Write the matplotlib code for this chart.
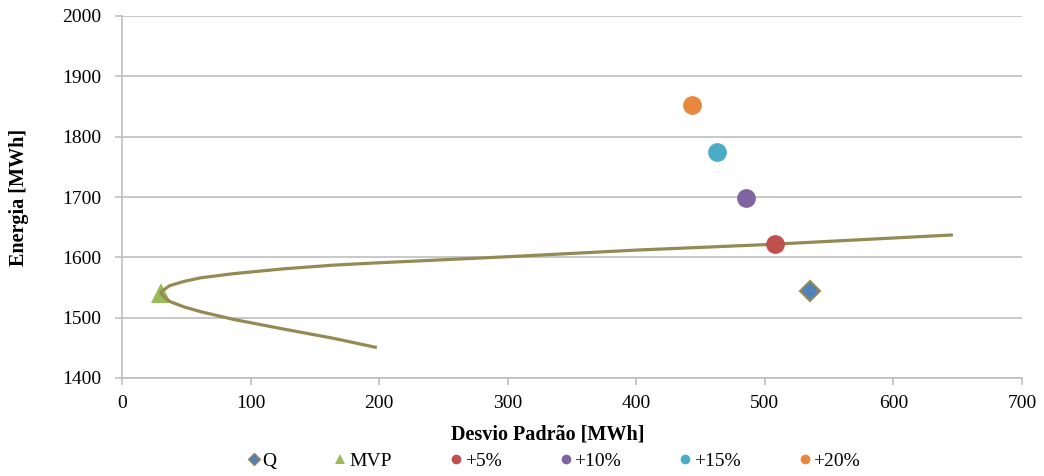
import matplotlib
matplotlib.use("Agg")
import matplotlib.pyplot as plt

plt.rcParams["font.family"] = ["Liberation Serif", "DejaVu Serif"]

# Efficient frontier: standard deviation [MWh] vs. energy [MWh]
frontier_std = [197, 164, 126, 87, 61, 48, 37, 33, 30, 33, 37, 48, 61, 87, 126,
                164, 200, 300, 400, 500, 645]
frontier_energy = [1451, 1466, 1481, 1497, 1510, 1518, 1527, 1534, 1541, 1547, 1553,
                   1560, 1566, 1573, 1581, 1587, 1591, 1601, 1612, 1621, 1637]

# Individual portfolios
point_labels = ["Q", "MVP", "+5%", "+10%", "+15%", "+20%"]
point_std = [535, 30, 508, 485, 463, 443]
point_energy = [1544, 1541, 1622, 1698, 1775, 1853]

x_ticks = [0, 100, 200, 300, 400, 500, 600, 700]
y_ticks = [1400, 1500, 1600, 1700, 1800, 1900, 2000]

W, H = 1044, 476
fig = plt.figure(figsize=(W / 100, H / 100), dpi=100)
ax = fig.add_axes([122 / W, 1 - 378 / H, 900 / W, 362 / H])

grid_color = "#BFBFBF"
line_color = "#948A54"

ax.plot(frontier_std, frontier_energy, color=line_color, lw=2.3,
        solid_joinstyle="round", zorder=3)

styles = [
    dict(marker="D", ms=10.5, mfc="#4F81BD", mec=line_color, mew=1.5),
    dict(marker="^", ms=14, mfc="#9BBB59", mec="#9BBB59", mew=0),
    dict(marker="o", ms=13.5, mfc="#C0504D", mec="#C0504D", mew=0),
    dict(marker="o", ms=13.5, mfc="#8064A2", mec="#8064A2", mew=0),
    dict(marker="o", ms=13.5, mfc="#4BACC6", mec="#4BACC6", mew=0),
    dict(marker="o", ms=13.5, mfc="#E8873D", mec="#E8873D", mew=0),
]
for lab, sx, sy, st in zip(point_labels, point_std, point_energy, styles):
    z = 2 if lab == "MVP" else 4
    ax.plot([sx], [sy], ls="none", zorder=z, **st)

ax.set_xlim(0, 700)
ax.set_ylim(1400, 2000)
ax.set_xticks(x_ticks)
ax.set_yticks(y_ticks)
ax.tick_params(axis="both", labelsize=14, color=grid_color, length=5,
               width=1.2, direction="out")
ax.tick_params(axis="y", pad=10)
ax.tick_params(axis="x", pad=7)
ax.yaxis.grid(True, color=grid_color, lw=1.2)
ax.set_axisbelow(True)
for s in ["top", "right"]:
    ax.spines[s].set_visible(False)
for s in ["left", "bottom"]:
    ax.spines[s].set_color(grid_color)
    ax.spines[s].set_linewidth(1.2)

ax.set_xlabel("Desvio Padrão [MWh]", fontsize=14.5, fontweight="bold")
ax.xaxis.set_label_coords((548 - 122) / 900, -(435 - 378) / 362)
ax.xaxis.label.set_va("center")
ax.set_ylabel("Energia [MWh]", fontsize=14.5, fontweight="bold")
ax.yaxis.set_label_coords(-(122 - 19) / 900, 0.5)
ax.yaxis.label.set_va("center")

legend_handles = []
for st, lab in zip(styles, point_labels):
    small = dict(st)
    small["ms"] = 7 if st["marker"] != "D" else 6.5
    small["mew"] = 1 if st["marker"] == "D" else 0
    h, = ax.plot([], [], ls="none", label=lab, **small)
    legend_handles.append(h)

fig.legend(handles=legend_handles, labels=point_labels, loc="center",
           bbox_to_anchor=(554 / W, 1 - 461 / H), ncol=6, frameon=False,
           fontsize=14, handlelength=0.6, handletextpad=0.15,
           columnspacing=3.0)

fig.savefig("out.png", dpi=100)
